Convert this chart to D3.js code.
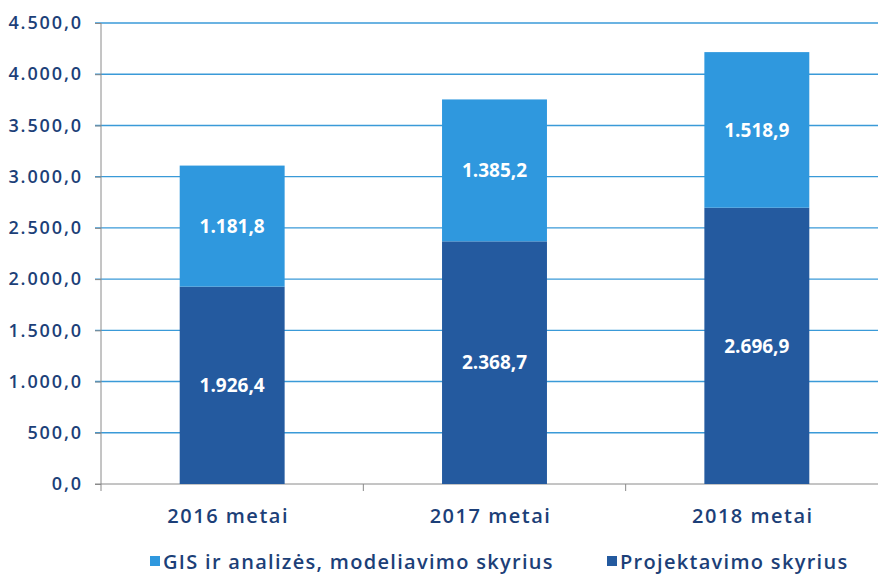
<!DOCTYPE html>
<html>
<head>
<meta charset="utf-8">
<script src="https://cdn.jsdelivr.net/npm/d3@7"></script>
<style>
  body { margin: 0; background: #fff; }
  svg text { font-family: "Open Sans", sans-serif; }
</style>
</head>
<body>
<svg id="chart" width="878" height="577"></svg>
<script>
const years = ["2016 metai", "2017 metai", "2018 metai"];
const projektavimo = [1926.4, 2368.7, 2696.9];
const gis = [1181.8, 1385.2, 1518.9];
const yTicks = [0, 500, 1000, 1500, 2000, 2500, 3000, 3500, 4000, 4500];
const seriesNames = ["GIS ir analizės, modeliavimo skyrius", "Projektavimo skyrius"];

const darkBlue = "#245a9f",
      lightBlue = "#2f98de",
      navy = "#1c3f78";

const lt = d3.formatLocale({decimal: ",", thousands: ".", grouping: [3], currency: ["", ""]});
const fmt = lt.format(",.1f");

const svg = d3.select("#chart"),
      margin = {top: 23, right: -10, bottom: 93, left: 101},
      width = +svg.attr("width") - margin.left - margin.right,
      height = +svg.attr("height") - margin.top - margin.bottom;

const x = d3.scaleBand().domain(years).range([0, width]).padding(0),
      y = d3.scaleLinear().domain([0, 4500]).range([height, 0]);

const g = svg.append("g")
    .attr("transform", `translate(${margin.left},${margin.top})`);

// gridlines
g.append("g")
  .selectAll("line")
  .data(yTicks.slice(1))
  .enter().append("line")
    .attr("x1", -6)
    .attr("x2", width)
    .attr("y1", d => y(d))
    .attr("y2", d => y(d))
    .attr("stroke", "#3a9ad8")
    .attr("stroke-width", 1.4);

// y axis
const yAxis = g.append("g")
    .call(d3.axisLeft(y).tickValues(yTicks).tickFormat(fmt).tickSize(6).tickPadding(12));
yAxis.select(".domain").attr("stroke", "#8a8a8a").attr("d", `M0,${y(4500)}V${height + 7}`);
yAxis.selectAll(".tick line").attr("stroke", "#8a8a8a");
yAxis.selectAll("text")
    .attr("fill", navy)
    .style("font-size", "18px")
    .style("font-weight", 600)
    .style("letter-spacing", "1.9px");

// x axis
const xAxis = g.append("g")
    .attr("transform", `translate(0,${height})`)
    .call(d3.axisBottom(x).tickSize(0).tickPadding(25));
xAxis.select(".domain").attr("stroke", "#8a8a8a").attr("d", `M-6,0H${width}`);
xAxis.selectAll(".tick text")
    .attr("fill", navy)
    .attr("dx", -4)
    .style("font-size", "20px")
    .style("font-weight", 600)
    .style("letter-spacing", "1.5px");
xAxis.selectAll(".sep")
  .data(years.slice(1))
  .enter().append("line")
    .attr("x1", d => x(d))
    .attr("x2", d => x(d))
    .attr("y1", 0)
    .attr("y2", 7)
    .attr("stroke", "#8a8a8a");

// stacked bars
const barW = x.bandwidth() * 0.4;
const rows = years.map((yr, i) => ({year: yr, p: projektavimo[i], gis: gis[i]}));

const bars = g.selectAll(".bar")
  .data(rows)
  .enter().append("g")
    .attr("transform", d => `translate(${x(d.year) + (x.bandwidth() - barW) / 2},0)`);

bars.append("rect")
    .attr("y", d => y(d.p))
    .attr("width", barW)
    .attr("height", d => height - y(d.p))
    .attr("fill", darkBlue);

bars.append("rect")
    .attr("y", d => y(d.p + d.gis))
    .attr("width", barW)
    .attr("height", d => y(d.p) - y(d.p + d.gis))
    .attr("fill", lightBlue);

bars.append("text")
    .attr("x", barW / 2)
    .attr("y", d => y(d.p / 2))
    .attr("dy", "0.35em")
    .attr("text-anchor", "middle")
    .attr("fill", "#fff")
    .style("font-size", "19px")
    .style("font-weight", 700)
    .text(d => fmt(d.p));

bars.append("text")
    .attr("x", barW / 2)
    .attr("y", d => y(d.p + d.gis / 2))
    .attr("dy", "0.35em")
    .attr("text-anchor", "middle")
    .attr("fill", "#fff")
    .style("font-size", "19px")
    .style("font-weight", 700)
    .text(d => fmt(d.gis));

// legend
const legend = svg.append("g").attr("transform", "translate(0,562)");
const legendItems = [
  {name: seriesNames[0], color: lightBlue, x: 150},
  {name: seriesNames[1], color: darkBlue, x: 607}
];
const li = legend.selectAll(".li")
  .data(legendItems)
  .enter().append("g")
    .attr("transform", d => `translate(${d.x},0)`);
li.append("rect")
    .attr("x", 0)
    .attr("y", -6)
    .attr("width", 10)
    .attr("height", 10)
    .attr("fill", d => d.color);
li.append("text")
    .attr("x", 13)
    .attr("y", 0)
    .attr("dy", "0.35em")
    .attr("fill", navy)
    .style("font-size", "20px")
    .style("font-weight", 600)
    .style("letter-spacing", "1.3px")
    .text(d => d.name);
</script>
</body>
</html>
